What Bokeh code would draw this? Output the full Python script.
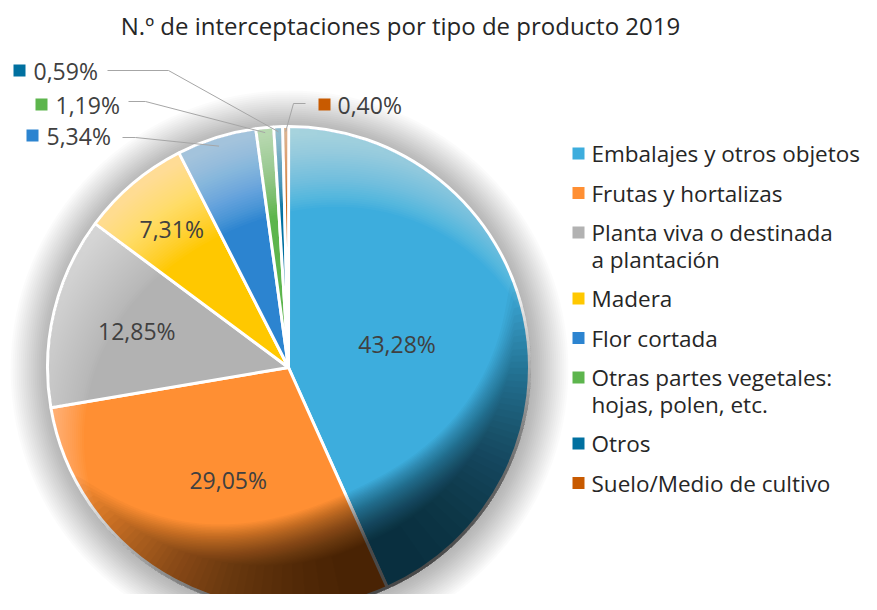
import numpy as np
from bokeh.plotting import figure
from bokeh.models import Range1d, ColumnDataSource
from bokeh.core.properties import value
from bokeh.embed import file_html
from bokeh.resources import INLINE

# ---------------- data ----------------
title_text = "N.º de interceptaciones por tipo de producto 2019"
categories = [
    "Embalajes y otros objetos",
    "Frutas y hortalizas",
    "Planta viva o destinada\na plantación",
    "Madera",
    "Flor cortada",
    "Otras partes vegetales:\nhojas, polen, etc.",
    "Otros",
    "Suelo/Medio de cultivo",
]
percentages = [43.28, 29.05, 12.85, 7.31, 5.34, 1.19, 0.59, 0.40]
colors = ["#3DADDD", "#FF8F33", "#B2B2B2", "#FFC800", "#2C84D0", "#5DB54D", "#0070A0", "#C85A00"]

pct_labels = [f"{v:.2f}%".replace(".", ",") for v in percentages]

# ---------------- layout (reference pixel coords) ----------------
FONT = value("Open Sans")
def Y(py):
    return 610 - np.asarray(py, dtype=float)

cx, cy = 288.0, float(Y(367))
R = 241.0

p = figure(width=861, height=594, x_range=Range1d(0, 861), y_range=Range1d(16, 610),
           output_backend="svg", toolbar_location=None, min_border=0,
           x_axis_type=None, y_axis_type=None)
p.grid.visible = False
p.outline_line_color = None
p.background_fill_color = "white"
p.border_fill_color = "white"

# ---------------- soft shadow ----------------
sh_r = [R + 2.0 * k for k in range(1, 20)]
p.circle(x=[cx + 1] * len(sh_r), y=[cy - 2] * len(sh_r), radius=sh_r,
         fill_color="black", fill_alpha=0.016, line_color=None)

# ---------------- pie ----------------
vals = np.array(percentages)
cum = np.concatenate([[0], np.cumsum(vals)[:-1]])
start = np.radians(90 - cum * 3.6)
end = np.radians(90 - (cum + vals) * 3.6)
mid = (start + end) / 2

src = ColumnDataSource(dict(start=start, end=end, color=colors))
p.wedge(x=cx, y=cy, radius=R, start_angle="start", end_angle="end", direction="clock",
        fill_color="color", line_color="white", line_width=3, source=src)

# ---------------- 3D shading overlays ----------------
R_OUT = R + 1.6

def level_polys(theta_c, spread, amp_fn, rs_fn, rf_fn, n_levels):
    th = np.radians(theta_c + np.linspace(-spread, spread, 721))
    d = th - np.radians(theta_c)
    A = amp_fn(d)
    rs = rs_fn(d)
    rf = rf_fn(d)
    xs, ys = [], []
    for k in range(1, n_levels + 1):
        L = k / n_levels
        m = A >= L
        if m.sum() < 2:
            continue
        t = np.clip(L / np.where(A > 0, A, 1), 0, 1)
        r_in = rs + t * (rf - rs)
        thm = th[m]
        rin = np.minimum(r_in[m], R_OUT)
        px = np.concatenate([cx + rin * np.cos(thm), cx + R_OUT * np.cos(thm[::-1])])
        py = np.concatenate([cy + rin * np.sin(thm), cy + R_OUT * np.sin(thm[::-1])])
        xs.append(list(px))
        ys.append(list(py))
    return xs, ys

# light from upper-left
NL = 36
lx, ly = level_polys(
    115, 112,
    lambda d: np.clip((np.cos(d) + 0.25) / 1.25, 0, 1) ** 0.9,
    lambda d: R - 95 * np.clip((np.cos(d) + 0.25) / 1.25, 0, 1),
    lambda d: R - 8 * np.clip((np.cos(d) + 0.25) / 1.25, 0, 1),
    NL)
a_l = 1 - (1 - 0.62) ** (1 / NL)
p.patches(xs=lx, ys=ly, fill_color="white", fill_alpha=a_l, line_color=None)

# darkness at lower-right
ND = 40
dx_, dy_ = level_polys(
    -66, 92,
    lambda d: np.clip(np.cos(d), 0, 1) ** 1.25,
    lambda d: R - 100 * np.clip(np.cos(d), 0, 1) - 4,
    lambda d: R - 48 * np.clip(np.cos(d), 0, 1),
    ND)
a_d = 1 - (1 - 0.69) ** (1 / ND)
p.patches(xs=dx_, ys=dy_, fill_color="black", fill_alpha=a_d, line_color=None)

# ---------------- inside labels ----------------
inside_r = [111, 128, 156, 181]
ix = [cx + r * np.cos(a) for r, a in zip(inside_r, mid[:4])]
iy = [cy + r * np.sin(a) for r, a in zip(inside_r, mid[:4])]
p.text(x=ix, y=iy, text=pct_labels[:4], text_align="center", text_baseline="middle",
       text_font=FONT, text_font_size="23px", text_color="#404040")

# ---------------- outside labels with leaders ----------------
out_idx = [4, 5, 6, 7]
out_text_x = [46, 55, 33, 337]
out_text_y = [135, 104, 70, 104]
out_mark_x = [32, 41, 19, 324]
elbow_a = [(122, 137), (128, 101), (107, 70), (305, 103)]
elbow_b = [(135, 137), (145, 101), (168, 70), (293, 103)]
tip_r = [232, 236, 236, 236]

lxs, lys = [], []
for j, i in enumerate(out_idx):
    tx = cx + tip_r[j] * np.cos(mid[i])
    ty = cy + tip_r[j] * np.sin(mid[i])
    lxs.append([elbow_a[j][0], elbow_b[j][0], tx])
    lys.append([float(Y(elbow_a[j][1])), float(Y(elbow_b[j][1])), ty])
p.multi_line(xs=lxs, ys=lys, line_color="#a6a6a6", line_width=1)

p.rect(x=out_mark_x, y=list(Y(out_text_y)), width=12, height=12,
       fill_color=[colors[i] for i in out_idx], line_color=None)
p.text(x=out_text_x, y=list(Y(out_text_y)), text=[pct_labels[i] for i in out_idx],
       text_align="left", text_baseline="middle",
       text_font=FONT, text_font_size="23px", text_color="#404040")

# ---------------- legend ----------------
LEG_MARK_X, LEG_TEXT_X = 578, 591
leg_y = []
line_x, line_y, line_txt = [], [], []
extra = 0
for i, c in enumerate(categories):
    y0 = 153 + 39.5 * i + 26.5 * extra
    leg_y.append(y0)
    for k, part in enumerate(c.split("\n")):
        line_x.append(LEG_TEXT_X)
        line_y.append(float(Y(y0 + 26.5 * k)))
        line_txt.append(part)
    extra += c.count("\n")
p.rect(x=[LEG_MARK_X] * len(categories), y=list(Y(leg_y)), width=12, height=12,
       fill_color=colors, line_color=None)
p.text(x=line_x, y=line_y, text=line_txt,
       text_align="left", text_baseline="middle",
       text_font=FONT, text_font_size="22.5px", text_color="#262626")

# ---------------- title ----------------
p.text(x=[400], y=[float(Y(25))], text=[title_text], text_align="center", text_baseline="middle",
       text_font=FONT, text_font_size="24px", text_color="#262626")

open("out.html", "w").write(file_html(p, INLINE))
